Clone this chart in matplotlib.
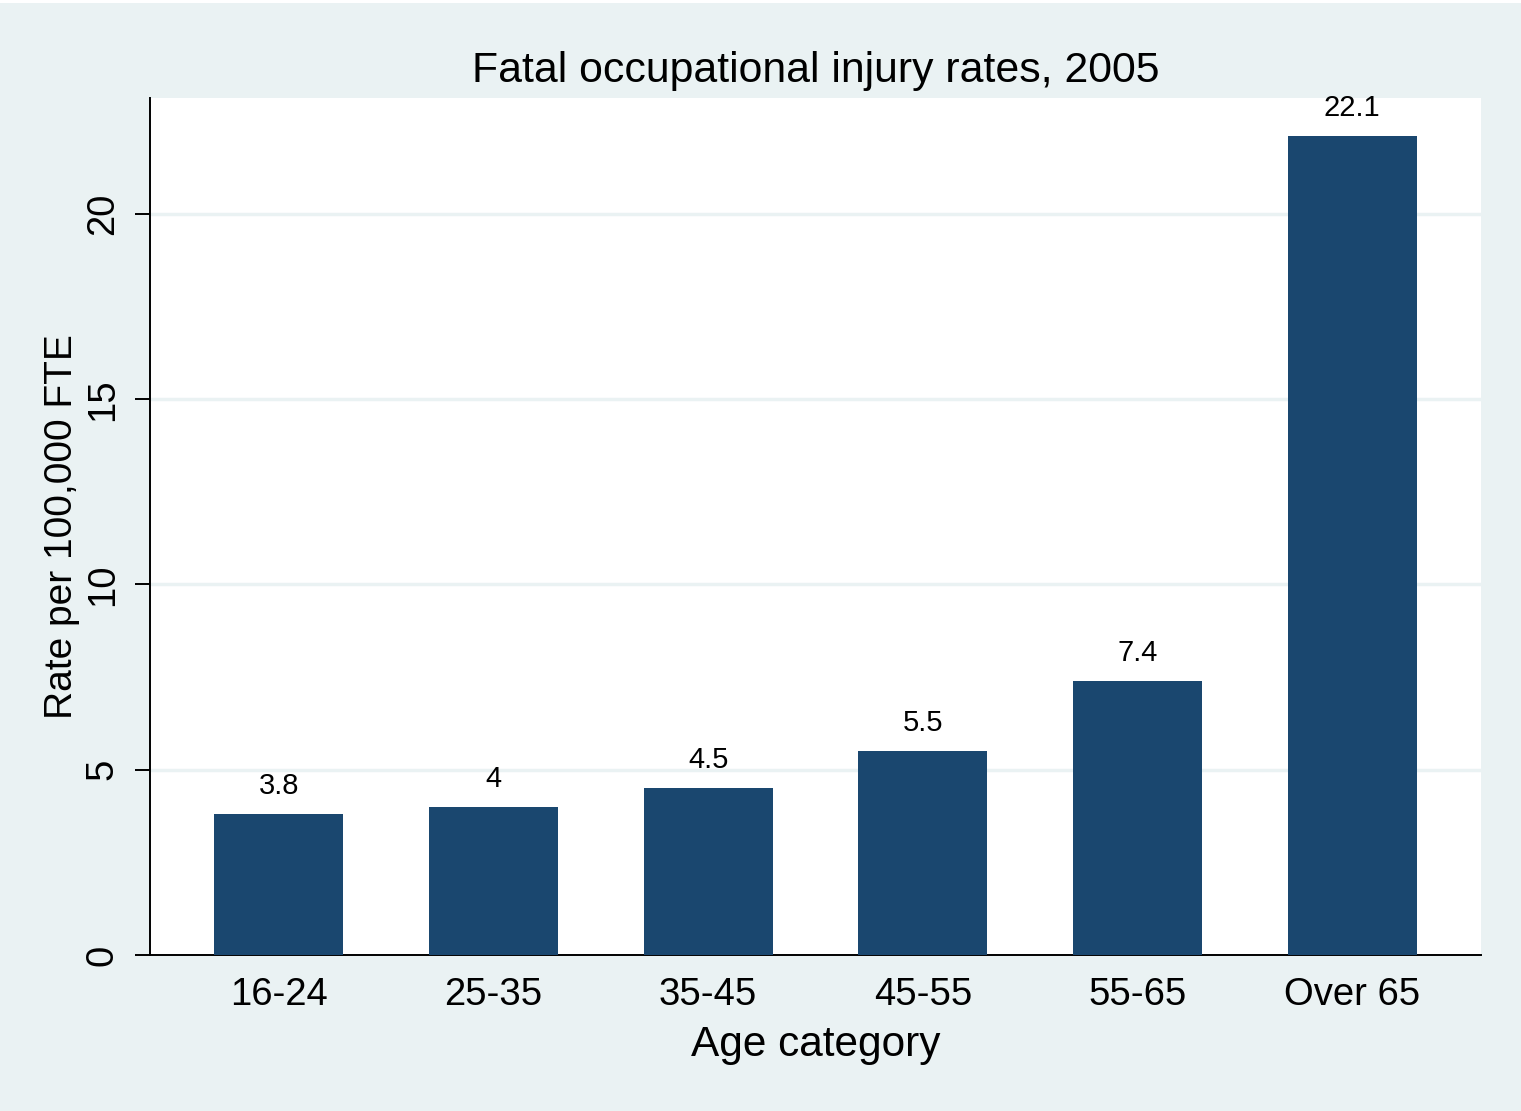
import numpy as np
import matplotlib.pyplot as plt

# -------------------------
# Data
# -------------------------
categories = ['16-24', '25-35', '35-45', '45-55', '55-65', 'Over 65']
rates = [3.8, 4, 4.5, 5.5, 7.4, 22.1]
rate_labels = ['3.8', '4', '4.5', '5.5', '7.4', '22.1']
yticks = [0, 5, 10, 15, 20]

bar_color = '#1a476f'
bg_color = '#eaf2f3'

plt.rcParams['font.family'] = ['Liberation Sans', 'DejaVu Sans']

# -------------------------
# Figure / axes
# -------------------------
fig = plt.figure(figsize=(15.21, 11.11), dpi=100, facecolor=bg_color)
# thin white strip at the very top
fig.patches.append(plt.Rectangle((0, 1 - 3/1111), 1, 3/1111, transform=fig.transFigure,
                                 facecolor='white', edgecolor='none', zorder=0))

ax = fig.add_axes([150/1521, 1 - 955/1111, 1331/1521, 857/1111])
ax.set_facecolor('white')

x = np.arange(len(categories))
ax.bar(x, rates, width=0.6, color=bar_color, zorder=3)

for xi, r, lab in zip(x, rates, rate_labels):
    ax.annotate(lab, (xi, r), xytext=(0, 10), textcoords='offset points',
                ha='center', va='bottom', fontsize=21)

ax.set_xlim(-0.6, 5.6)
ax.set_ylim(0, 23.13)

# grid
for yv in yticks[1:]:
    ax.axhline(yv, color=bg_color, linewidth=2.5, zorder=1)

ax.set_yticks(yticks)
ax.set_yticklabels([str(v) for v in yticks], rotation=90, va='center', fontsize=27.5)
ax.tick_params(axis='y', length=11, width=1.4, pad=10)
ax.set_xticks(x)
ax.set_xticklabels(categories, fontsize=27.5)
ax.tick_params(axis='x', length=0, pad=16)

for s in ['top', 'right']:
    ax.spines[s].set_visible(False)
ax.spines['left'].set_linewidth(1.4)
ax.spines['bottom'].set_linewidth(1.4)

ax.set_xlabel('Age category', fontsize=30.5)
ax.xaxis.set_label_coords(0.5, -(1045 - 955)/857)
ax.xaxis.label.set_va('center')
ax.set_ylabel('Rate per 100,000 FTE', fontsize=28)
ax.yaxis.set_label_coords(-(150 - 62)/1331, 0.5)
ax.yaxis.label.set_va('center')

ax.text(0.5, 1 + (98 - 71)/857, 'Fatal occupational injury rates, 2005',
        transform=ax.transAxes, ha='center', va='center', fontsize=30.8)

fig.savefig('out.png', dpi=100, facecolor=bg_color)
